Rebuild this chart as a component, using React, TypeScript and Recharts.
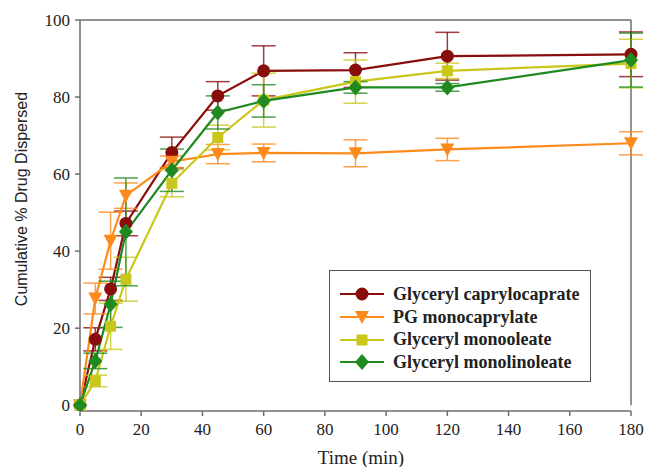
import React from "react"
import { LineChart, Line, XAxis, YAxis, ErrorBar, ReferenceLine } from "recharts"

const times = [0, 5, 10, 15, 30, 45, 60, 90, 120, 180]

const caprylocaprate = [0, 17.1, 30.2, 47.2, 65.6, 80.3, 86.8, 87.0, 90.6, 91.1]
const caprylocaprateErr = [0, 3, 3, 3.2, 4, 3.7, 6.5, 4.5, 6.2, 5.8]

const pgMonocaprylate = [0, 27.7, 42.7, 54.4, 63.2, 65.2, 65.5, 65.4, 66.4, 68.0]
const pgMonocaprylateErr = [0, 4, 7.4, 3.3, 1.5, 2.5, 2.3, 3.5, 2.9, 3.0]

const monooleate = [0, 6.3, 20.5, 32.7, 57.6, 69.5, 79.2, 84.0, 86.8, 88.7]
const monooleateErr = [0, 1.5, 6, 5.7, 3.5, 3.2, 7, 5.6, 2, 6.3]

const monolinoleate = [0, 11.5, 26.2, 45.0, 61.0, 76.0, 79.0, 82.5, 82.5, 89.6]
const monolinoleateErr = [0, 2, 6, 14, 5.5, 4.3, 4.2, 1.5, 1, 7]

const xTicks = [0, 20, 40, 60, 80, 100, 120, 140, 160, 180]
const yTicks = [0, 20, 40, 60, 80, 100]

const series = [
  { key: "cc", name: "Glyceryl caprylocaprate", color: "#8a0d0d", shape: "circle" },
  { key: "pg", name: "PG monocaprylate", color: "#ff8a1c", shape: "triangle" },
  { key: "mo", name: "Glyceryl monooleate", color: "#c9c71a", shape: "square" },
  { key: "ml", name: "Glyceryl monolinoleate", color: "#1f8a1f", shape: "diamond" },
]

const data = times.map((t, i) => ({
  time: t,
  cc: caprylocaprate[i],
  ccErr: caprylocaprateErr[i],
  pg: pgMonocaprylate[i],
  pgErr: pgMonocaprylateErr[i],
  mo: monooleate[i],
  moErr: monooleateErr[i],
  ml: monolinoleate[i],
  mlErr: monolinoleateErr[i],
}))

const AXIS = "#6e6e6e"
const SERIF = "'Liberation Serif', 'Times New Roman', serif"

const Marker = ({ shape, cx, cy, color }: any) => {
  if (shape === "circle") return <circle cx={cx} cy={cy} r={6.5} fill={color} />
  if (shape === "triangle")
    return <polygon points={`${cx - 7},${cy - 6} ${cx + 7},${cy - 6} ${cx},${cy + 7}`} fill={color} />
  if (shape === "square") return <rect x={cx - 5.5} y={cy - 5.5} width={11} height={11} fill={color} />
  return <polygon points={`${cx},${cy - 8} ${cx + 7},${cy} ${cx},${cy + 8} ${cx - 7},${cy}`} fill={color} />
}

const makeDot = (shape: string, color: string) => (props: any) => {
  const { cx, cy, index } = props
  if (cx == null || cy == null) return <g key={`d-${index}`} />
  return (
    <g key={`d-${index}`}>
      <Marker shape={shape} cx={cx} cy={cy} color={color} />
    </g>
  )
}

const ChartLegend = () => (
  <div
    style={{
      position: "absolute",
      left: 329,
      top: 270,
      border: "1.5px solid #555",
      background: "#fff",
      width: 262,
      height: 112,
      boxSizing: "border-box",
      padding: "12px 0 0 10px",
      fontFamily: SERIF,
      fontWeight: "bold",
      fontSize: 18,
      color: "#222",
    }}>
    {series.map((s) => (
      <div key={s.key} style={{ display: "flex", alignItems: "center", height: 22.7 }}>
        <svg width={44} height={16} style={{ marginRight: 9 }}>
          <line x1={0} y1={8} x2={44} y2={8} stroke={s.color} strokeWidth={2} />
          <Marker shape={s.shape} cx={22} cy={8} color={s.color} />
        </svg>
        <span>{s.name}</span>
      </div>
    ))}
  </div>
)

const YLabel = () => (
  <text
    x={21}
    y={199}
    transform="rotate(-90 21 199)"
    textAnchor="middle"
    dominantBaseline="central"
    fontFamily="'Liberation Sans', Arial, sans-serif"
    fontSize={16}
    fill="#222">
    Cumulative % Drug Dispersed
  </text>
)

const XLabel = () => (
  <text x={361} y={457} textAnchor="middle" dominantBaseline="central" fontFamily={SERIF} fontSize={19} fill="#222">
    Time (min)
  </text>
)

const App = () => {
  return (
    <div style={{ position: "absolute", left: 0, top: 0, width: 645, height: 467, background: "#fff" }}>
      <LineChart width={645} height={467} data={data} margin={{ top: 20, right: 14, bottom: 0, left: 0 }}>
        <XAxis
          dataKey="time"
          type="number"
          domain={[0, 180]}
          ticks={xTicks}
          stroke={AXIS}
          strokeWidth={1.5}
          tickSize={5}
          tickMargin={7}
          tick={{ fill: "#222", fontFamily: SERIF, fontSize: 17 }}
          height={56}
          label={<XLabel />}
        />
        <YAxis
          type="number"
          domain={[-1.5, 100]}
          ticks={yTicks}
          allowDataOverflow
          stroke={AXIS}
          strokeWidth={1.5}
          tickSize={5}
          tickMargin={5}
          tick={{ fill: "#222", fontFamily: SERIF, fontSize: 17 }}
          width={80}
          label={<YLabel />}
        />
        <ReferenceLine y={100} stroke={AXIS} strokeWidth={1.5} />
        <ReferenceLine
          segment={[
            { x: 180, y: 0 },
            { x: 180, y: 100 },
          ]}
          stroke={AXIS}
          strokeWidth={1.5}
        />
        {series.map((s) => (
          <Line
            key={s.key}
            dataKey={s.key}
            name={s.name}
            stroke={s.color}
            strokeWidth={2.2}
            dot={makeDot(s.shape, s.color)}
            activeDot={false}
            isAnimationActive={false}>
            <ErrorBar dataKey={`${s.key}Err`} width={12} stroke={s.color} strokeWidth={1.5} strokeOpacity={0.8} direction="y" />
          </Line>
        ))}
      </LineChart>
      <ChartLegend />
    </div>
  )
}

export default App
